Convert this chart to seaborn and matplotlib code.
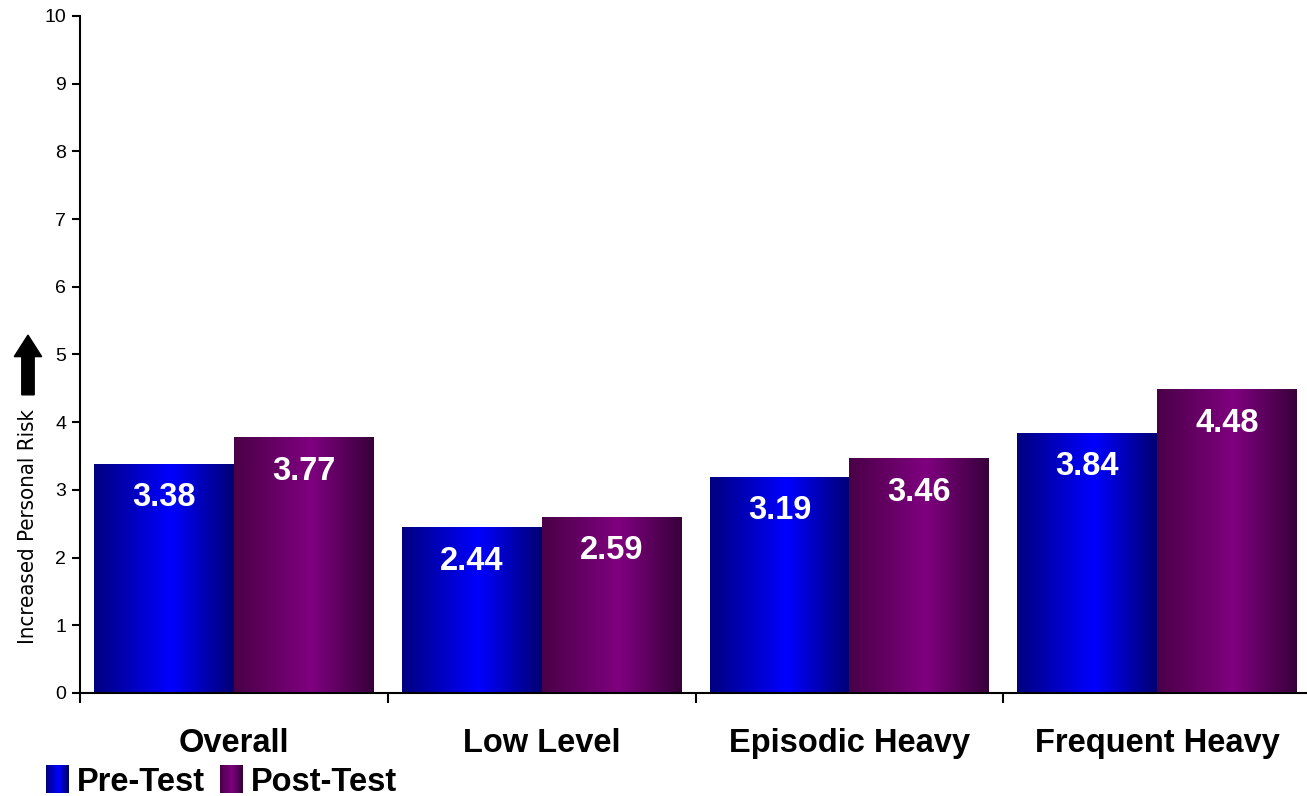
import numpy as np
import pandas as pd
import seaborn as sns
import matplotlib.pyplot as plt
from matplotlib import font_manager
from matplotlib.patches import Rectangle, FancyArrow
from matplotlib.legend_handler import HandlerBase

categories = ["Overall", "Low Level", "Episodic Heavy", "Frequent Heavy"]
pre_test = [3.38, 2.44, 3.19, 3.84]
post_test = [3.77, 2.59, 3.46, 4.48]
series = ["Pre-Test", "Post-Test"]

df = pd.DataFrame({
    "group": categories * 2,
    "series": [series[0]] * 4 + [series[1]] * 4,
    "value": pre_test + post_test,
})

sns.set_style("white")
plt.rcParams["font.family"] = ["Liberation Sans", "DejaVu Sans"]
plt.rcParams["text.color"] = "black"
plt.rcParams["xtick.color"] = "black"
plt.rcParams["ytick.color"] = "black"

# a narrow face for the y label if one is installed
narrow = None
for f in font_manager.fontManager.ttflist:
    if f.name == "Liberation Sans Narrow" and f.weight in (400, "normal", "regular"):
        narrow = {"family": "Liberation Sans Narrow"}
        break
if narrow is None:
    for f in font_manager.fontManager.ttflist:
        if f.name == "DejaVu Sans" and f.stretch in ("condensed", "semi-condensed") \
                and f.style == "normal" and f.weight in (400, "normal"):
            narrow = {"family": "DejaVu Sans", "stretch": f.stretch}
            break
if narrow is None:
    narrow = {"family": "Liberation Sans"}

# edge / centre / edge colours for the shaded bars
shades = {
    "Pre-Test": [(0, 0, 0.50), (0, 0, 1.0), (0, 0, 0.45)],
    "Post-Test": [(0.29, 0, 0.28), (0.50, 0, 0.50), (0.22, 0, 0.23)],
}


def shade(cols, f, mid=0.55):
    a, b, c = (np.array(x) for x in cols)
    if f < mid:
        return a + (b - a) * f / mid
    return b + (c - b) * (f - mid) / (1 - mid)


def gradient(cols, n=200):
    return np.array([[shade(cols, v) for v in np.linspace(0, 1, n)]])


fig = plt.figure(figsize=(13.07, 7.96), dpi=100)
ax = fig.add_axes([0.0612, 0.1294, 0.942, 0.8505])

sns.barplot(data=df, x="group", y="value", hue="series", order=categories,
            hue_order=series, palette=["#0000ff", "#800080"], width=0.909,
            linewidth=0, ax=ax, legend=False)

for cont, name in zip(ax.containers, series):
    img = gradient(shades[name])
    for bar in cont:
        x, w, h = bar.get_x(), bar.get_width(), bar.get_height()
        ax.imshow(img, extent=[x, x + w, 0, h], aspect="auto", zorder=2,
                  interpolation="bilinear")
        ax.annotate(f"{h:.2f}", (x + w / 2, h), xytext=(0, -24),
                    textcoords="offset points", ha="center", va="center",
                    color="white", fontsize=23.5, fontweight="bold", zorder=3)

ax.set_xlim(-0.5, 3.5)
ax.set_ylim(0, 10)
ax.set_yticks(range(0, 11))
ax.tick_params(axis="y", direction="out", length=6, width=1.5, labelsize=14,
               left=True, pad=4)
ax.set_xticks(range(4))
ax.set_xticklabels(categories, fontsize=23.5, fontweight="bold")
ax.tick_params(axis="x", which="major", length=0, pad=25)
ax.set_xticks(np.arange(-0.5, 4, 1), minor=True)
ax.tick_params(axis="x", which="minor", direction="out", length=7, width=1.5,
               bottom=True)
ax.set_xlabel("")
ax.set_ylabel("")
sns.despine(ax=ax)
for s in ["left", "bottom"]:
    ax.spines[s].set_color("black")
    ax.spines[s].set_linewidth(1.5)

ylab = fig.text(0.0214, 0.338, "Increased Personal Risk", rotation=90,
                ha="center", va="center", fontsize=21, color="black", **narrow)
# fit the label to the length it has in the original (about 235 px)
fig.canvas.draw()
ext = ylab.get_window_extent()
ylab.set_fontsize(21 * 235 / ext.height)

fig.patches.append(FancyArrow(
    0.0214, 0.504, 0, 0.075, width=0.0095, head_width=0.021, head_length=0.027,
    length_includes_head=True, color="black", transform=fig.transFigure,
    figure=fig))


class GradHandler(HandlerBase):
    def create_artists(self, legend, orig, xd, yd, width, height, fontsize, trans):
        cols = shades[orig.get_label()]
        arts = []
        n = 20
        for i in range(n):
            c = shade(cols, i / (n - 1))
            r = Rectangle((xd + width * i / n, yd - 2), width / n + 0.3, height + 4,
                          facecolor=c, edgecolor="none", transform=trans)
            arts.append(r)
        return arts


handles = [Rectangle((0, 0), 1, 1, label=s) for s in series]
fig.legend(handles=handles, labels=series, loc="lower left",
           bbox_to_anchor=(0.0125, -0.039), ncol=2, frameon=False,
           handler_map={Rectangle: GradHandler()}, handlelength=0.7,
           handletextpad=0.25, columnspacing=0.45,
           prop={"size": 23.5, "weight": "bold"})

fig.savefig("out.png", dpi=100)
